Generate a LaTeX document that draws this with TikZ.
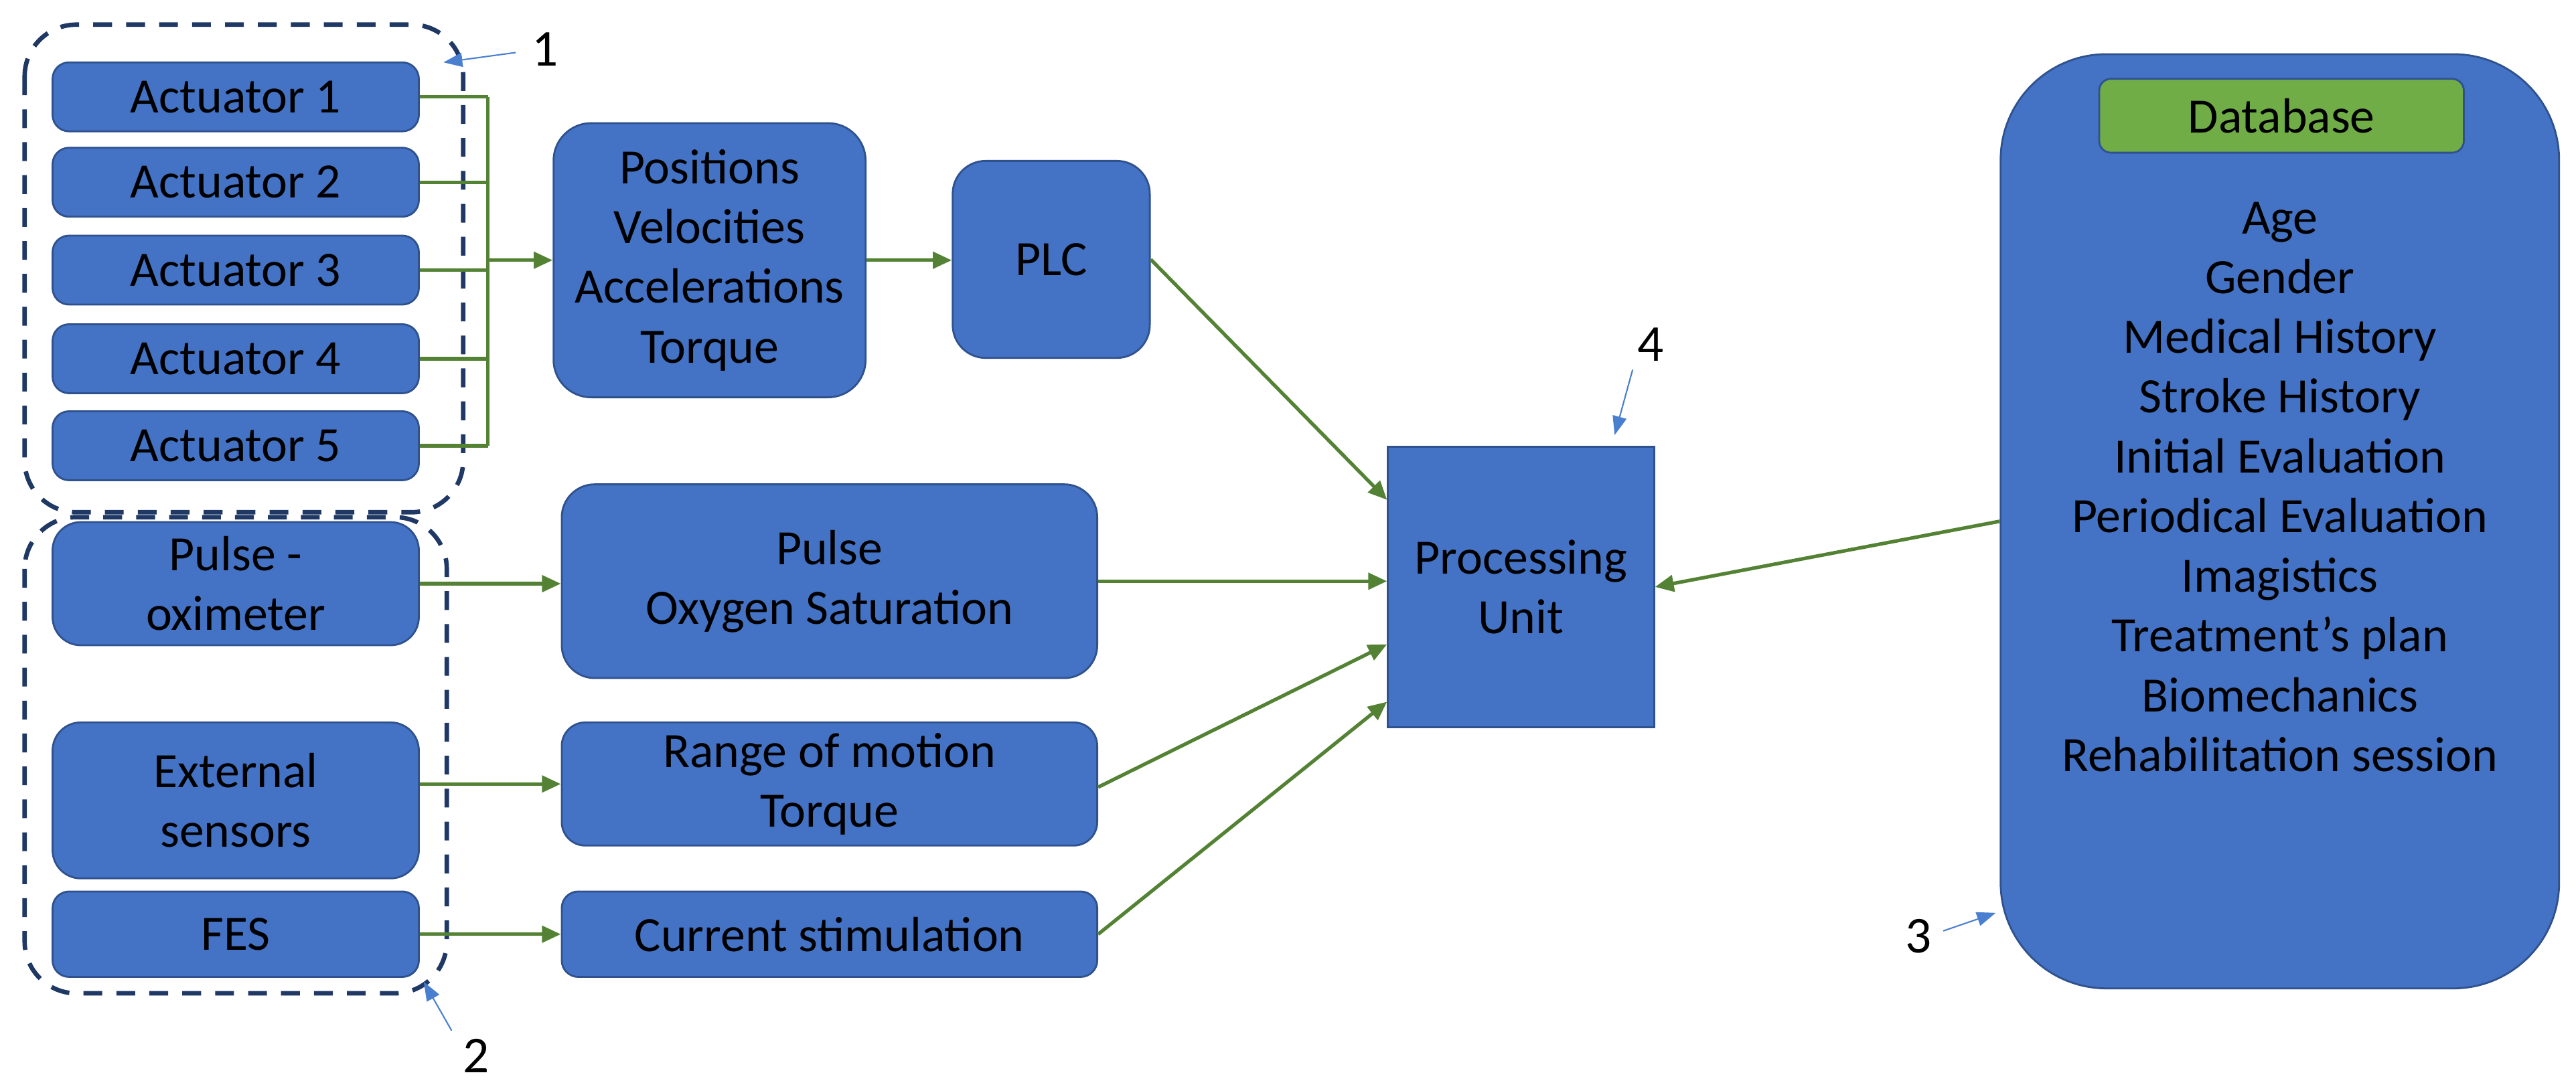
\documentclass[tikz,border=0pt]{standalone}
\usepackage{fontspec}
\setmainfont{Carlito}
\usetikzlibrary{arrows.meta,calc}
\definecolor{bfill}{HTML}{4472C4}
\definecolor{bdraw}{HTML}{2F528F}
\definecolor{grn}{HTML}{548235}
\definecolor{gfill}{HTML}{70AD47}
\definecolor{navy}{HTML}{1F3864}
\definecolor{lblue}{HTML}{4A7FD0}
\begin{document}
\begin{tikzpicture}[x=0.02453cm,y=-0.02453cm,
  sz/.style 2 args={minimum width=#1*0.02453cm, minimum height=#2*0.02453cm},
  box/.style={draw=bdraw, fill=bfill, line width=0.8pt, rounded corners=7pt, inner sep=0pt, align=center, font=\fontsize{21}{25.4}\selectfont},
  grp/.style={draw=navy, line width=1.9pt, dash pattern=on 8pt off 6pt, rounded corners=22pt},
  arr/.style={draw=grn, line width=1.5pt, -{Triangle[length=8pt,width=7pt]}},
  ln/.style={draw=grn, line width=1.5pt},
  lab/.style={font=\fontsize{22}{26}\selectfont},
  larr/.style={draw=lblue, line width=0.6pt, -{Triangle[length=8pt,width=6pt]}}]
\useasboundingbox (0,0) rectangle (1568.3,662.9);
% groups
\draw[grp] (15,15) rectangle (282,312);
\draw[grp] (15,315) rectangle (272,605);
% actuators
\node[box,sz={223}{42}] (a1) at (143.5,59) {Actuator 1};
\node[box,sz={223}{42}] (a2) at (143.5,111) {Actuator 2};
\node[box,sz={223}{42}] (a3) at (143.5,164.5) {Actuator 3};
\node[box,sz={223}{42}] (a4) at (143.5,218.5) {Actuator 4};
\node[box,sz={223}{42}] (a5) at (143.5,271.5) {Actuator 5};
\node[box,sz={190}{167},rounded corners=16pt] (pos) at (432,158.5) {Positions\\Velocities\\Accelerations\\Torque};
\node[box,sz={120}{120},rounded corners=14pt] (plc) at (640,158) {PLC};
\node[box,sz={162}{171},rounded corners=0pt] (pu) at (926,357.5) {Processing\\Unit};
% sensors
\node[box,sz={223}{75},rounded corners=12pt] (po) at (143.5,355.5) {Pulse -\\oximeter};
\node[box,sz={223}{95},rounded corners=12pt] (ext) at (143.5,487.5) {External\\sensors};
\node[box,sz={223}{52}] (fes) at (143.5,569) {FES};
\node[box,sz={326}{118},rounded corners=14pt] (pb) at (505,354) {Pulse\\Oxygen Saturation};
\node[box,sz={326}{75},rounded corners=10pt] (rb) at (505,477.5) {Range of motion\\Torque};
\node[box,sz={326}{52}] (cb) at (505,569) {Current stimulation};
% database
\node[box,sz={340}{569},rounded corners=45pt] (db) at (1388,317.5) {};
\node[box,sz={222}{45},fill=gfill,draw=bdraw,rounded corners=5pt] (dbt) at (1389,70.5) {Database};
\node[font=\fontsize{21}{25.4}\selectfont, align=center, anchor=north] (dbl) at (1388,118) {Age\\Gender\\Medical History\\Stroke History\\Initial Evaluation\\Periodical Evaluation\\Imagistics\\Treatment’s plan\\Biomechanics\\Rehabilitation session};
% bus
\coordinate (bt) at (297,59);
\coordinate (bb) at (297,271.5);
\foreach \a in {a1,a2,a3,a4,a5} \draw[ln] (\a.east) -- (\a.east -| bt);
\draw[ln] (bt) -- (bb);
\draw[arr] (pos.west -| bt) -- (pos.west);
\draw[arr] (pos.east) -- (pos.east -| plc.west);
\draw[arr] (po.east) -- (po.east -| pb.west);
\draw[arr] (ext.east |- rb.west) -- (rb.west);
\draw[arr] (fes.east) -- (fes.east -| cb.west);
\draw[arr] (plc.east) -- ($(pu.north west)+(0,33)$);
\draw[arr] (pb.east) -- (pb.east -| pu.west);
\draw[arr] ($(rb.north east)+(0,40)$) -- ($(pu.north west)+(0,121)$);
\draw[arr] (cb.east) -- ($(pu.north west)+(0,156)$);
\draw[arr] (db.west) -- (pu.east);
% labels
\node[lab] (l1) at (332,30) {1};
\coordinate (t1) at (270,38);
\draw[larr] (l1.west) ++(-5,2) -- (t1);
\node[lab] (l2) at (290,643) {2};
\coordinate (t2) at (258,598);
\draw[larr] ($(l2.north west)+(-2,0)$) -- (t2);
\node[lab] (l3) at (1168,570) {3};
\coordinate (t3) at (1215,556);
\draw[larr] ($(l3.east)+(2,-3)$) -- (t3);
\node[lab] (l4) at (1005,210) {4};
\coordinate (t4) at (983,265);
\draw[larr] ($(l4.south west)+(2,0)$) -- (t4);
\end{tikzpicture}
\end{document}
